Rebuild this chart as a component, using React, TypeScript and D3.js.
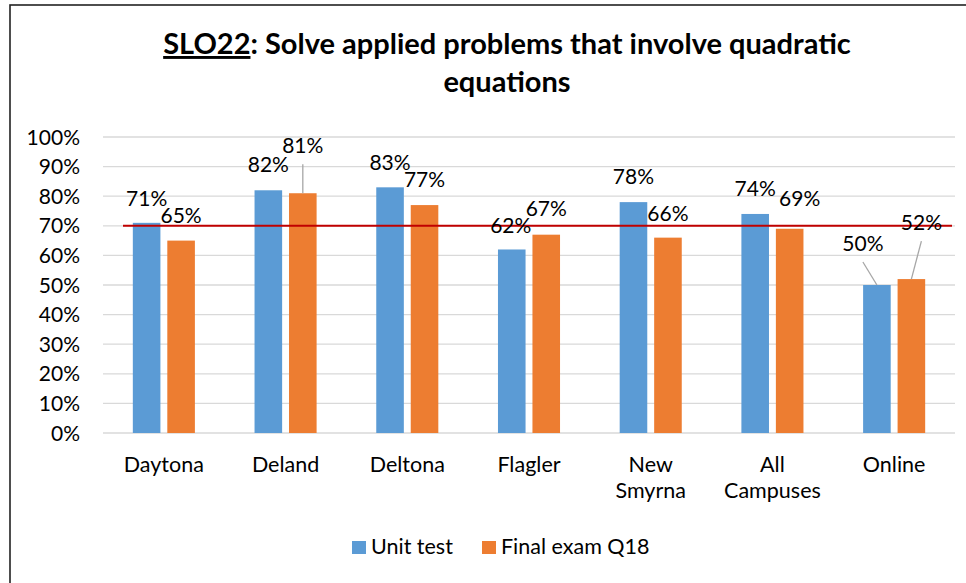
import React from "react";
import * as d3 from "d3";

// data
const campuses = ["Daytona", "Deland", "Deltona", "Flagler", "New Smyrna", "All Campuses", "Online"];
const unitTest = [71, 82, 83, 62, 78, 74, 50];
const finalExam = [65, 81, 77, 67, 66, 69, 52];
const seriesNames = ["Unit test", "Final exam Q18"];
const yTicks = [0, 10, 20, 30, 40, 50, 60, 70, 80, 90, 100];
const target = 70;

// label nudges [dx, dy from bar top]; leader flags say where a leader line is drawn
const unitLabelNudge = [[0, -17], [0, -18], [0, -17], [-1, -16], [0, -18], [0, -18], [-14, -34]];
const finalLabelNudge = [[0, -18], [0, -40], [0, -18], [0, -19], [0, -17], [10, -23], [10, -49]];
const unitLeader = [false, false, false, false, false, false, true];
const finalLeader = [false, true, false, false, false, false, true];

const W = 966;
const H = 583;
const colors = ["#5B9BD5", "#ED7D31"];
const font = "Lato, 'Open Sans', sans-serif";

export default function App() {
  const x = d3.scaleBand<string>().domain(campuses).range([103, 955]).padding(0);
  const inner = d3
    .scaleBand<number>()
    .domain([0, 1])
    .range([0, x.bandwidth()])
    .paddingInner(0.2)
    .paddingOuter(0.865);
  const y = d3.scaleLinear().domain([0, 100]).range([433, 137]);

  const series = [unitTest, finalExam];
  const nudges = [unitLabelNudge, finalLabelNudge];
  const leaders = [unitLeader, finalLeader];

  return (
    <svg
      width={W}
      height={H}
      style={{ position: "absolute", left: 0, top: 0, fontFamily: font }}
    >
      <rect x={0} y={0} width={W} height={H} fill="#fff" />
      {/* chart frame, cut off at right and bottom */}
      <rect x={10} y={5} width={W + 20} height={H + 20} fill="none" stroke="#222" strokeWidth={1.6} />

      <text x={507} y={54} textAnchor="middle" fontWeight="bold" fontSize={29} fill="#000">
        <tspan textDecoration="underline">SLO22</tspan>
        <tspan>: Solve applied problems that involve quadratic</tspan>
      </text>
      <text x={507} y={92} textAnchor="middle" fontWeight="bold" fontSize={29} fill="#000">
        equations
      </text>

      {yTicks.map((t) => (
        <g key={t}>
          <line x1={103} x2={955} y1={y(t)} y2={y(t)} stroke="#d9d9d9" strokeWidth={1.3} />
          <text x={80} y={y(t)} dy="0.36em" textAnchor="end" fontSize={21} fill="#000">
            {t}%
          </text>
        </g>
      ))}

      {campuses.map((c, i) =>
        series.map((vals, s) => {
          const bx = (x(c) as number) + (inner(s) as number);
          return (
            <rect
              key={c + s}
              x={bx}
              y={y(vals[i])}
              width={inner.bandwidth()}
              height={y(0) - y(vals[i])}
              fill={colors[s]}
            />
          );
        })
      )}

      <line x1={123} x2={952} y1={y(target)} y2={y(target)} stroke="#C00000" strokeWidth={2} />

      {campuses.map((c, i) =>
        series.map((vals, s) => {
          const bx = (x(c) as number) + (inner(s) as number);
          const cx = bx + inner.bandwidth() / 2;
          const top = y(vals[i]);
          const [dx, dy] = nudges[s][i];
          const lx = cx + dx;
          const ly = top + dy;
          return (
            <g key={"l" + c + s}>
              {leaders[s][i] && (
                <line x1={lx} y1={ly + 11} x2={cx} y2={top} stroke="#a6a6a6" strokeWidth={1.3} />
              )}
              <text x={lx} y={ly} textAnchor="middle" fontSize={21} fill="#000">
                {vals[i]}%
              </text>
            </g>
          );
        })
      )}

      {campuses.map((c) => {
        const words = c.split(" ");
        const cx = (x(c) as number) + x.bandwidth() / 2;
        return (
          <text key={"x" + c} x={cx} y={472} textAnchor="middle" fontSize={21.5} fill="#000">
            {words.map((w, k) => (
              <tspan key={k} x={cx} dy={k === 0 ? 0 : 26}>
                {w}
              </tspan>
            ))}
          </text>
        );
      })}

      {seriesNames.map((n, s) => {
        const lx = s === 0 ? 352 : 482;
        return (
          <g key={n}>
            <rect x={lx} y={541} width={14} height={13} fill={colors[s]} />
            <text x={lx + 19} y={554} fontSize={21.5} fill="#000">
              {n}
            </text>
          </g>
        );
      })}
    </svg>
  );
}
